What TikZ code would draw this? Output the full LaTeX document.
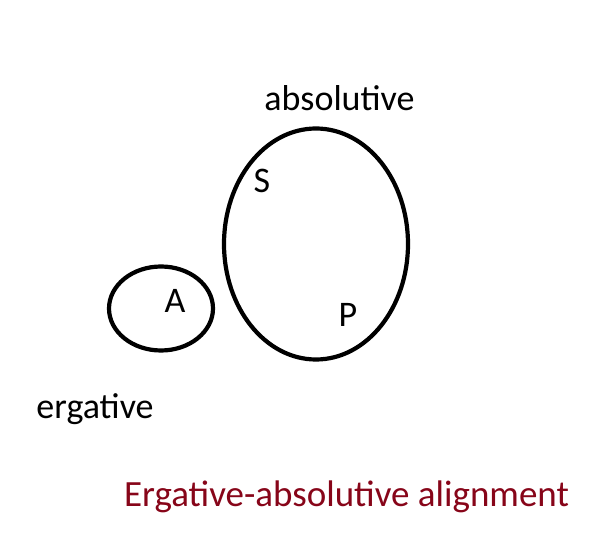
\documentclass[tikz,border=0pt]{standalone}
\usepackage{fontspec}
\setmainfont{Carlito}
\usepackage{xcolor}
\usetikzlibrary{shapes.geometric}
\definecolor{titlered}{RGB}{135,5,25}

\begin{document}
\begin{tikzpicture}[
    x=1pt, y=1pt,
    set/.style={ellipse, draw, line width=4.2pt, inner sep=0pt},
    lbl/.style={anchor=base, font=\fontsize{36}{40}\selectfont},
  ]
  \useasboundingbox (0,0) rectangle (595,536);

  \node[set, minimum width=184, minimum height=231] (absset) at (316,292) {};
  \node[set, minimum width=104, minimum height=84] (ergset) at (161,227.5) {};

  \node[lbl] (absolutive) at (339.5,425) {absolutive};
  \node[lbl] (s) at (262,343) {S};
  \node[lbl] (p) at (348,209) {P};
  \node[lbl] (a) at (175,223) {A};
  \node[lbl] (ergative) at (95,117) {ergative};

  \node[lbl, text=titlered, font=\fontsize{37}{42}\selectfont] (title) at (346.5,29) {Ergative-absolutive alignment};

\end{tikzpicture}
\end{document}
